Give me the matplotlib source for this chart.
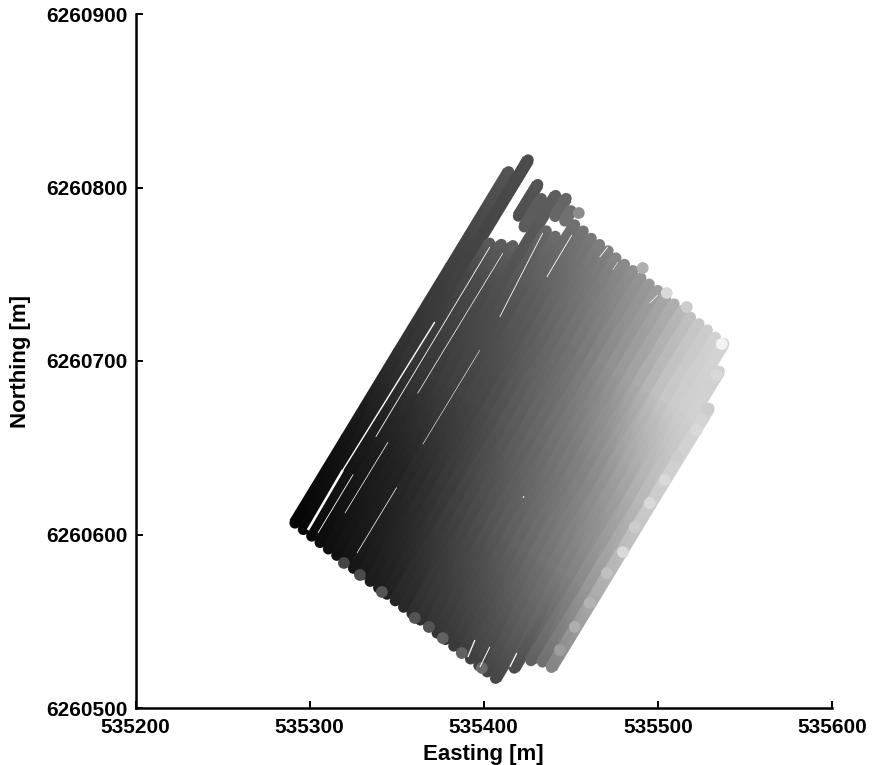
import numpy as np
import matplotlib
matplotlib.use("Agg")
import matplotlib.pyplot as plt

plt.rcParams['font.family'] = ['Liberation Sans', 'DejaVu Sans']
plt.rcParams['font.weight'] = 'bold'

# survey lines, south to north
# easting is metres past 535000, northing is metres past 6260000
EAST_BASE = 535000
NORTH_BASE = 6260000

track_east = [
    [291.6, 321.5, 351.3, 381.2, 414.3],
    [296.4, 326.7, 356.5, 386.4, 425.5],
    [301.2, 331.8, 361.6, 391.5, 403.4],
    [306.0, 337.0, 366.8, 396.7, 410.1],
    [310.8, 342.1, 371.9, 401.8, 416.7],
    [315.6, 347.3, 377.1, 407.0, 441.3],
    [320.4, 352.4, 382.2, 412.1, 435.9],
    [325.2, 357.6, 387.4, 417.3, 441.1],
    [330.0, 362.7, 392.5, 422.4, 452.2],
    [334.8, 367.9, 397.7, 427.6, 457.1],
    [339.6, 373.1, 402.9, 432.8, 461.7],
    [344.4, 378.2, 408.0, 437.9, 466.5],
    [349.2, 383.4, 413.2, 443.1, 471.4],
    [354.0, 388.5, 418.3, 448.2, 475.9],
    [358.8, 393.7, 423.5, 453.4, 480.8],
    [363.6, 398.8, 428.6, 458.5, 485.6],
    [368.4, 404.0, 433.8, 463.7, 490.2],
    [373.2, 409.1, 438.9, 468.8, 495.0],
    [378.0, 414.3, 444.1, 474.0, 499.9],
    [382.8, 419.4, 449.2, 479.1, 504.4],
    [387.6, 424.6, 454.4, 484.3, 509.3],
    [392.4, 429.8, 459.6, 489.5, 514.2],
    [397.2, 434.9, 464.7, 494.6, 518.7],
    [402.0, 440.1, 469.9, 499.8, 523.6],
    [406.8, 445.2, 475.0, 504.9, 528.4],
    [417.5, 450.4, 480.2, 510.1, 533.0],
    [427.1, 455.5, 485.3, 515.2, 537.8],
    [433.8, 460.7, 490.5, 520.4, 535.3],
    [438.9, 465.8, 495.6, 525.5, 529.3],
    # short pieces north of the break near the top
    [419.9, 431.0],
    [423.2, 433.1],
    [441.0, 447.3],
    [446.5, 450.1],
]
track_north = [
    [606.6, 655.9, 705.2, 754.4, 809.1],
    [602.9, 652.8, 702.1, 751.3, 815.9],
    [599.1, 649.6, 698.9, 748.1, 767.9],
    [595.4, 646.5, 695.8, 745.0, 767.2],
    [591.7, 643.3, 692.6, 741.8, 766.5],
    [588.0, 640.2, 689.5, 738.7, 795.4],
    [584.2, 637.0, 686.3, 735.5, 775.0],
    [580.5, 633.9, 683.2, 732.4, 771.9],
    [576.8, 630.7, 680.0, 729.2, 778.5],
    [573.0, 627.6, 676.9, 726.1, 774.9],
    [569.3, 624.4, 673.7, 722.9, 770.7],
    [565.6, 621.3, 670.6, 719.8, 767.1],
    [561.8, 618.1, 667.4, 716.6, 763.5],
    [558.1, 615.0, 664.3, 713.5, 759.4],
    [554.4, 611.8, 661.1, 710.3, 755.7],
    [550.7, 608.7, 658.0, 707.2, 752.1],
    [546.9, 605.5, 654.8, 704.0, 747.9],
    [543.2, 602.4, 651.7, 700.9, 744.3],
    [539.5, 599.2, 648.5, 697.7, 740.6],
    [535.7, 596.1, 645.4, 694.6, 736.5],
    [532.0, 593.0, 642.3, 691.5, 732.9],
    [528.3, 589.8, 639.1, 688.3, 729.2],
    [524.5, 586.7, 636.0, 685.2, 725.2],
    [520.8, 583.5, 632.8, 682.0, 721.5],
    [517.1, 580.4, 629.7, 678.9, 717.9],
    [523.0, 577.2, 626.5, 675.7, 713.7],
    [527.3, 574.1, 623.4, 672.6, 710.1],
    [526.5, 570.9, 620.2, 669.4, 694.1],
    [523.4, 567.8, 617.1, 666.3, 672.7],
    [783.5, 801.7],
    [777.3, 793.6],
    [783.3, 793.7],
    [780.7, 786.6],
]
track_gray = [
    [0.02, 0.08, 0.19, 0.25, 0.33],
    [0.03, 0.09, 0.20, 0.26, 0.30],
    [0.04, 0.10, 0.21, 0.28, 0.35],
    [0.05, 0.11, 0.22, 0.29, 0.36],
    [0.06, 0.12, 0.23, 0.30, 0.37],
    [0.07, 0.13, 0.24, 0.31, 0.37],
    [0.08, 0.14, 0.25, 0.32, 0.40],
    [0.09, 0.16, 0.26, 0.33, 0.42],
    [0.10, 0.17, 0.27, 0.35, 0.44],
    [0.11, 0.19, 0.28, 0.36, 0.46],
    [0.12, 0.21, 0.30, 0.38, 0.47],
    [0.13, 0.23, 0.32, 0.40, 0.49],
    [0.15, 0.25, 0.34, 0.42, 0.50],
    [0.16, 0.27, 0.36, 0.44, 0.52],
    [0.18, 0.29, 0.38, 0.46, 0.54],
    [0.19, 0.31, 0.40, 0.48, 0.56],
    [0.20, 0.33, 0.42, 0.51, 0.58],
    [0.21, 0.35, 0.44, 0.54, 0.60],
    [0.22, 0.37, 0.46, 0.57, 0.62],
    [0.23, 0.39, 0.48, 0.60, 0.65],
    [0.24, 0.41, 0.50, 0.63, 0.68],
    [0.25, 0.43, 0.52, 0.67, 0.72],
    [0.26, 0.45, 0.55, 0.71, 0.75],
    [0.27, 0.47, 0.58, 0.75, 0.78],
    [0.28, 0.49, 0.61, 0.78, 0.80],
    [0.30, 0.51, 0.64, 0.80, 0.82],
    [0.38, 0.54, 0.68, 0.81, 0.83],
    [0.44, 0.60, 0.72, 0.82, 0.82],
    [0.52, 0.68, 0.80, 0.83, 0.80],
    [0.31, 0.33],
    [0.36, 0.36],
    [0.40, 0.40],
    [0.44, 0.44],
]

# single lighter readings along the rim
rim_east = [319.7, 328.9, 341.5, 360.4, 368.5, 376.5, 387.4, 398.9,
            510.9, 504.0, 495.4, 486.7, 479.9, 470.7, 460.9, 452.3, 443.7,
            536.7, 533.8, 522.3, 505.1, 454.6, 491.3, 516.6]
rim_north = [583.6, 576.7, 566.9, 551.9, 546.7, 540.3, 531.7, 523.1,
             644.7, 631.4, 618.2, 604.3, 589.9, 577.8, 560.5, 546.7, 533.4,
             709.8, 691.9, 660.2, 739.2, 785.3, 753.6, 731.1]
rim_gray = [0.27, 0.30, 0.33, 0.33, 0.33, 0.38, 0.38, 0.42,
            0.80, 0.85, 0.85, 0.80, 0.85, 0.75, 0.70, 0.68, 0.62,
            0.95, 0.85, 0.85, 0.85, 0.55, 0.68, 0.80]

# uncovered slivers between neighbouring lines
gap_east = [[299.0, 319.1], [319.1, 371.9], [304.8, 325.0], [338.0, 403.5],
            [320.3, 345.0], [362.0, 411.0], [327.2, 350.0], [365.0, 397.8],
            [409.2, 433.9], [436.2, 450.6], [466.6, 471.2],
            [474.1, 477.0], [495.3, 499.9], [390.9, 394.9], [415.0, 419.0],
            [397.8, 403.5], [422.5, 423.2]]
gap_north = [[602.6, 637.2], [637.2, 722.5], [600.9, 634.6], [656.3, 765.7],
             [612.4, 653.2], [681.3, 762.2], [589.3, 627.1], [652.0, 706.3],
             [725.4, 773.8], [748.4, 772.6], [759.9, 765.7],
             [752.5, 757.1], [733.4, 738.0], [529.4, 539.2], [523.6, 531.7],
             [523.6, 535.2], [621.2, 622.0]]
gap_width = [1.8, 1.0, 0.6, 0.6, 0.5, 0.5, 0.5, 0.4,
             0.6, 0.6, 0.6, 0.4, 0.5, 0.9, 0.9, 0.7, 0.8]

x_ticks = [535200, 535300, 535400, 535500, 535600]
y_ticks = [6260500, 6260600, 6260700, 6260800, 6260900]

# half a swath across, in metres
HALF_E = 2.8
HALF_N = 1.7


def draw_track(ax, east, north, gray):
    """One survey line: a shaded ribbon with round dots on its stations."""
    e = EAST_BASE + np.array(east)
    n = NORTH_BASE + np.array(north)
    g = np.array(gray)
    xs = np.concatenate([e - HALF_E, e + HALF_E])
    ys = np.concatenate([n + HALF_N, n - HALF_N])
    m = len(e)
    tris = []
    for i in range(m - 1):
        tris.append([i, i + 1, m + i])
        tris.append([i + 1, m + i + 1, m + i])
    ax.tripcolor(xs, ys, np.array(tris), np.concatenate([g, g]),
                 shading='gouraud', cmap='gray', vmin=0, vmax=1)
    ax.scatter(e, n, c=g, s=64, cmap='gray', vmin=0, vmax=1, linewidths=0)


fig = plt.figure(figsize=(8.72, 7.65), dpi=100)
ax = fig.add_axes([135.5 / 872, 57 / 765, 696.5 / 872, 694 / 765])

for east, north, gray in zip(track_east, track_north, track_gray):
    draw_track(ax, east, north, gray)

for east, north, w in zip(gap_east, gap_north, gap_width):
    ax.plot(EAST_BASE + np.array(east), NORTH_BASE + np.array(north),
            color='white', lw=w, solid_capstyle='butt')

ax.scatter(EAST_BASE + np.array(rim_east), NORTH_BASE + np.array(rim_north),
           c=rim_gray, s=72, cmap='gray', vmin=0, vmax=1, linewidths=0)

ax.set_xlim(535200, 535600)
ax.set_ylim(6260500, 6260900)
ax.set_xticks(x_ticks)
ax.set_yticks(y_ticks)
ax.ticklabel_format(useOffset=False, style='plain')
ax.tick_params(direction='in', length=5, width=1.4, labelsize=15)
ax.tick_params(axis='y', pad=6)
ax.tick_params(axis='x', pad=7)
ax.spines['top'].set_visible(False)
ax.spines['right'].set_visible(False)
ax.spines['left'].set_linewidth(1.8)
ax.spines['bottom'].set_linewidth(1.8)

ax.set_xlabel('Easting [m]', fontsize=16, fontweight='bold', labelpad=5)
ax.set_ylabel('Northing [m]', fontsize=16, fontweight='bold', labelpad=11)

fig.savefig('out.png', dpi=100)
